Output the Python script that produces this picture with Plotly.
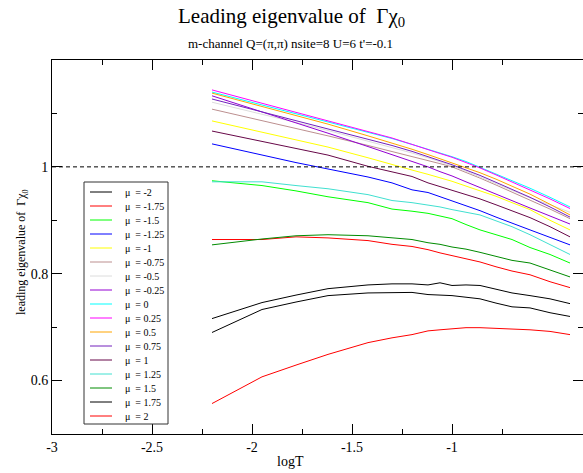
import plotly.graph_objects as go

# log10 of temperature at each computed point
log_t = [-2.2, -1.95, -1.78, -1.62, -1.42, -1.3, -1.2, -1.12, -1.06, -1.0,
         -0.93, -0.86, -0.78, -0.70, -0.61, -0.51, -0.41]

mu_labels = ["-2", "-1.75", "-1.5", "-1.25", "-1", "-0.75", "-0.5", "-0.25",
             "0", "0.25", "0.5", "0.75", "1", "1.25", "1.5", "1.75", "2"]

# leading eigenvalue for each chemical potential
ev_m2_00 = [0.716, 0.746, 0.760, 0.772, 0.779, 0.781, 0.781, 0.779, 0.783, 0.778,
            0.779, 0.778, 0.771, 0.764, 0.759, 0.753, 0.744]
ev_m1_75 = [0.864, 0.864, 0.869, 0.867, 0.862, 0.855, 0.851, 0.845, 0.839, 0.834,
            0.828, 0.822, 0.813, 0.805, 0.798, 0.785, 0.774]
ev_m1_50 = [0.974, 0.965, 0.955, 0.944, 0.933, 0.921, 0.917, 0.913, 0.908, 0.903,
            0.892, 0.882, 0.873, 0.864, 0.849, 0.836, 0.820]
ev_m1_25 = [1.043, 1.022, 1.008, 0.996, 0.981, 0.970, 0.957, 0.952, 0.944, 0.937,
            0.928, 0.918, 0.906, 0.894, 0.882, 0.868, 0.854]
ev_m1_00 = [1.086, 1.065, 1.051, 1.037, 1.017, 1.004, 0.994, 0.986, 0.980, 0.973,
            0.964, 0.955, 0.945, 0.933, 0.920, 0.900, 0.882]
ev_m0_75 = [1.108, 1.087, 1.072, 1.058, 1.040, 1.029, 1.019, 1.012, 1.006, 1.000,
            0.990, 0.979, 0.966, 0.953, 0.938, 0.921, 0.903]
ev_m0_50 = [1.121, 1.099, 1.083, 1.068, 1.048, 1.037, 1.026, 1.017, 1.010, 1.002,
            0.992, 0.981, 0.969, 0.956, 0.942, 0.929, 0.915]
ev_m0_25 = [1.133, 1.103, 1.083, 1.063, 1.038, 1.023, 1.011, 1.000, 0.991, 0.983,
            0.972, 0.961, 0.949, 0.937, 0.923, 0.908, 0.893]
ev_p0_00 = [1.140, 1.116, 1.100, 1.085, 1.065, 1.053, 1.042, 1.033, 1.026, 1.019,
            1.010, 0.999, 0.987, 0.974, 0.960, 0.943, 0.925]
ev_p0_25 = [1.144, 1.119, 1.102, 1.087, 1.066, 1.054, 1.042, 1.033, 1.025, 1.018,
            1.008, 0.998, 0.985, 0.972, 0.957, 0.940, 0.922]
ev_p0_50 = [1.138, 1.113, 1.096, 1.080, 1.058, 1.045, 1.033, 1.023, 1.015, 1.008,
            0.999, 0.989, 0.977, 0.964, 0.949, 0.930, 0.910]
ev_p0_75 = [1.127, 1.103, 1.087, 1.072, 1.052, 1.040, 1.029, 1.019, 1.012, 1.004,
            0.994, 0.984, 0.971, 0.958, 0.943, 0.925, 0.906]
ev_p1_00 = [1.067, 1.048, 1.035, 1.022, 1.001, 0.990, 0.982, 0.970, 0.963, 0.957,
            0.949, 0.940, 0.929, 0.918, 0.905, 0.888, 0.869]
ev_p1_25 = [0.972, 0.972, 0.965, 0.959, 0.948, 0.937, 0.933, 0.929, 0.925, 0.920,
            0.915, 0.910, 0.899, 0.888, 0.873, 0.854, 0.836]
ev_p1_50 = [0.854, 0.865, 0.871, 0.873, 0.871, 0.867, 0.864, 0.858, 0.855, 0.850,
            0.846, 0.840, 0.832, 0.825, 0.820, 0.807, 0.794]
ev_p1_75 = [0.690, 0.733, 0.747, 0.759, 0.764, 0.764, 0.765, 0.761, 0.760, 0.759,
            0.756, 0.753, 0.745, 0.738, 0.736, 0.727, 0.720]
ev_p2_00 = [0.557, 0.607, 0.629, 0.649, 0.671, 0.680, 0.686, 0.693, 0.695, 0.697,
            0.699, 0.699, 0.698, 0.697, 0.695, 0.692, 0.686]

series = [ev_m2_00, ev_m1_75, ev_m1_50, ev_m1_25, ev_m1_00, ev_m0_75, ev_m0_50,
          ev_m0_25, ev_p0_00, ev_p0_25, ev_p0_50, ev_p0_75, ev_p1_00, ev_p1_25,
          ev_p1_50, ev_p1_75, ev_p2_00]

colors = ["#000000", "#ff0000", "#00ff00", "#0000ff", "#ffff00", "#bc8f8f",
          "#dcdcdc", "#9400d3", "#00ffff", "#ff00ff", "#ffa500", "#7221bc",
          "#670748", "#40e0d0", "#008b00", "#000000", "#ff0000"]

W, H = 583, 473
L, T, B = 52, 60, 39
PW, PH = W - L, H - T - B
SERIF = "Liberation Serif, DejaVu Serif, Noto Serif, serif"


def px(x):
    return (x - L) / PW


def py(y):
    return (H - B - y) / PH


fig = go.Figure()
for lab, vals, col in zip(mu_labels, series, colors):
    fig.add_trace(go.Scatter(x=log_t, y=vals, mode="lines", name="μ = " + lab,
                             line=dict(color=col, width=1), showlegend=False))

shapes = [
    # reference level at eigenvalue 1
    dict(type="line", xref="paper", yref="y", x0=0, x1=1, y0=1, y1=1,
         line=dict(color="black", width=1, dash="4px,3px")),
    # legend frame
    dict(type="rect", xref="paper", yref="paper", x0=px(84), x1=px(168),
         y0=py(424), y1=py(182), line=dict(color="#333333", width=1),
         fillcolor="white", layer="above"),
]
annotations = []
for i, (lab, col) in enumerate(zip(mu_labels, colors)):
    yy = 192 + i * 14
    shapes.append(dict(type="line", xref="paper", yref="paper",
                       x0=px(90), x1=px(112), y0=py(yy), y1=py(yy),
                       line=dict(color=col, width=1), layer="above"))
    annotations.append(dict(xref="paper", yref="paper", x=px(123), y=py(yy),
                            text="μ\u00a0\u00a0= " + lab, showarrow=False,
                            xanchor="left", yanchor="middle",
                            font=dict(family=SERIF, size=10, color="black")))

annotations += [
    dict(xref="paper", yref="paper", x=px(291), y=py(17),
         text="Leading eigenvalue of\u00a0\u00a0Γχ<sub>0</sub>", showarrow=False,
         xanchor="center", yanchor="middle",
         font=dict(family=SERIF, size=21, color="black")),
    dict(xref="paper", yref="paper", x=px(290), y=py(43),
         text="m-channel Q=(π,π) nsite=8 U=6 t'=-0.1", showarrow=False,
         xanchor="center", yanchor="middle",
         font=dict(family=SERIF, size=13, color="black")),
    dict(xref="paper", yref="paper", x=px(290), y=py(461), text="logT",
         showarrow=False, xanchor="center", yanchor="middle",
         font=dict(family=SERIF, size=14, color="black")),
    dict(xref="paper", yref="paper", x=px(22), y=py(252),
         text="leading eigenvalue of\u00a0\u00a0Γχ<sub>0</sub>", showarrow=False,
         textangle=-90, xanchor="center", yanchor="middle",
         font=dict(family=SERIF, size=12, color="black")),
]

fig.update_layout(
    width=W, height=H,
    margin=dict(l=L, r=0, t=T, b=B, pad=0),
    paper_bgcolor="white", plot_bgcolor="white",
    font=dict(family=SERIF, size=14, color="black"),
    shapes=shapes, annotations=annotations,
    xaxis=dict(range=[-3, -3 + PW / 200], tickvals=[-3, -2.5, -2, -1.5, -1],
               ticktext=["-3", "-2.5", "-2", "-1.5", "-1"],
               ticks="inside", ticklen=10, tickwidth=1, tickcolor="black",
               minor=dict(tickvals=[-2.75, -2.25, -1.75, -1.25, -0.75],
                          ticks="inside", ticklen=5, tickcolor="black"),
               showline=True, linecolor="black", linewidth=1, mirror="ticks",
               showgrid=False, zeroline=False,
               tickfont=dict(family=SERIF, size=14)),
    yaxis=dict(range=[0.5, 1.2], tickvals=[0.6, 0.8, 1.0],
               ticktext=["0.6", "0.8", "1"],
               ticks="inside", ticklen=10, tickwidth=1, tickcolor="black",
               minor=dict(tickvals=[0.7, 0.9, 1.1], ticks="inside", ticklen=5,
                          tickcolor="black"),
               showline=True, linecolor="black", linewidth=1, mirror="ticks",
               showgrid=False, zeroline=False,
               tickfont=dict(family=SERIF, size=14)),
)

fig.write_html("out.html")
